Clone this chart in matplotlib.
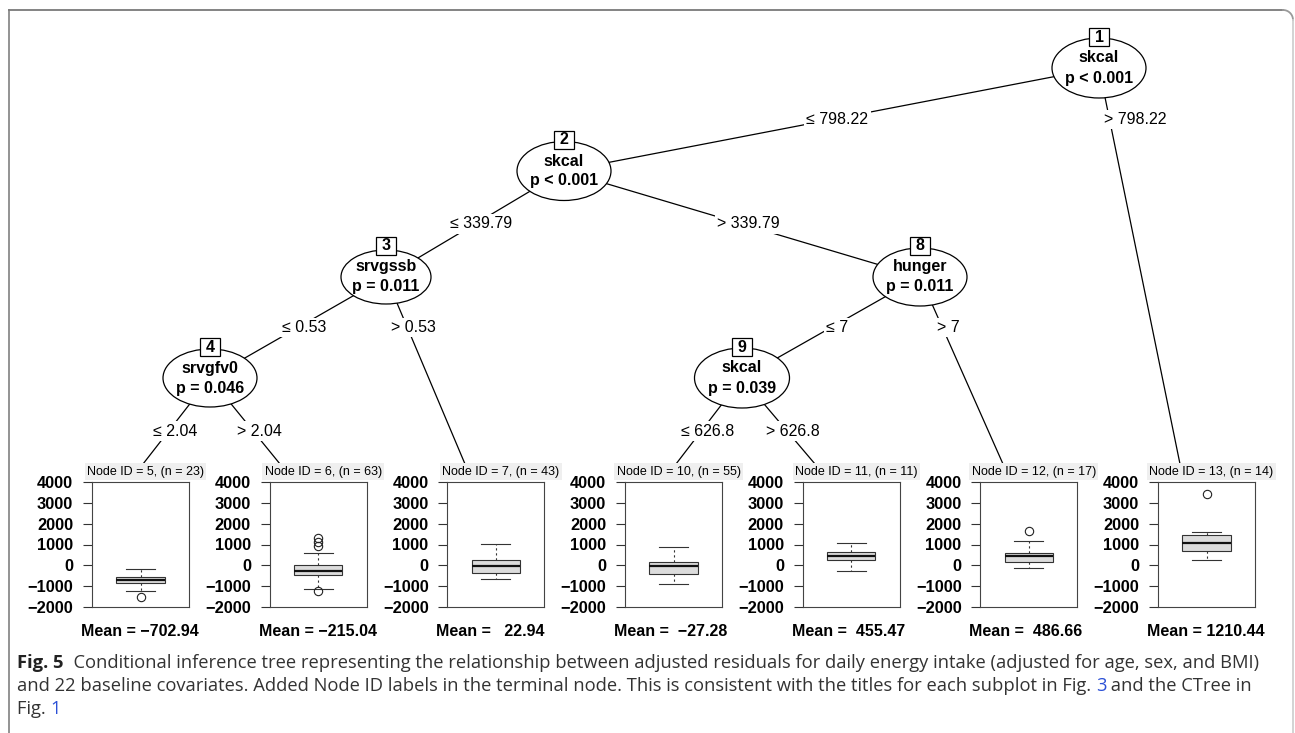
#!/usr/bin/env python3
import numpy as np
import matplotlib
matplotlib.use('Agg')
import matplotlib.pyplot as plt
from matplotlib.patches import Ellipse, Rectangle

plt.rcParams['font.family'] = ['Liberation Sans', 'DejaVu Sans']

# inner (split) nodes
inner_ids = [1, 2, 3, 4, 8, 9]
inner_vars = ['skcal', 'skcal', 'srvgssb', 'srvgfv0', 'hunger', 'skcal']
inner_p = ['p < 0.001', 'p < 0.001', 'p = 0.011', 'p = 0.046', 'p = 0.011', 'p = 0.039']

# terminal nodes
term_ids = [5, 6, 7, 10, 11, 12, 13]
term_n = [23, 63, 43, 55, 11, 17, 14]
term_mean = [-702.94, -215.04, 22.94, -27.28, 455.47, 486.66, 1210.44]
term_whislo = [-1230, -1120, -650, -880, -285, -125, 270]
term_q1 = [-870, -475, -365, -395, 240, 140, 665]
term_med = [-680, -255, -15, -20, 455, 455, 1060]
term_q3 = [-555, 20, 270, 160, 630, 615, 1440]
term_whishi = [-160, 570, 1030, 870, 1090, 1170, 1595]
term_out = [[-1515], [1330, 1130, 930, -1230], [], [], [], [1660], [3430]]

# edges: parent, child, split rule
edges = [(1, 2, '≤ 798.22'), (1, 13, '> 798.22'),
         (2, 3, '≤ 339.79'), (2, 8, '> 339.79'),
         (3, 4, '≤ 0.53'), (3, 7, '> 0.53'),
         (4, 5, '≤ 2.04'), (4, 6, '> 2.04'),
         (8, 9, '≤ 7'), (8, 12, '> 7'),
         (9, 10, '≤ 626.8'), (9, 11, '> 626.8')]

# layout in pixels
W, H = 1295, 733
level_y = [68, 171, 277, 378, 484]
inner_x = {1: 1099, 2: 564, 3: 386, 4: 210, 8: 920, 9: 742}
inner_level = {1: 0, 2: 1, 3: 2, 4: 3, 8: 2, 9: 3}
inner_size = {1: (94, 60), 2: (94, 59), 3: (90, 54), 4: (94, 58), 8: (94, 58), 9: (95, 60)}
term_anchor = {5: 143, 6: 280, 7: 465, 10: 676, 11: 815, 12: 1003, 13: 1180}
label_nudge = {(1, 13): 26}
term_top = 464
panel_left0, panel_step, panel_w = 92, 177.67, 97
panel_top, panel_bot = 482, 607

fig = plt.figure(figsize=(W / 100, H / 100), dpi=100)
ax = fig.add_axes([0, 0, 1, 1])
ax.set_xlim(0, W)
ax.set_ylim(H, 0)
ax.axis('off')

# frame around the figure
ax.plot([9, 9], [H + 10, 10], color='#8a8a8a', lw=1.3)
ax.plot([9, 1283], [10, 10], color='#7a7a7a', lw=1.3)
t = np.linspace(0, np.pi / 2, 20)
ax.plot(1283 + 10 * np.sin(t), 20 - 10 * np.cos(t), color='#9a9a9a', lw=1.3)
ax.plot([1293, 1293], [20, H + 10], color='#d0d0d0', lw=1.3)


def node_pos(nid):
    if nid in inner_x:
        return inner_x[nid], level_y[inner_level[nid]]
    return term_anchor[nid], term_top


# edges and split labels
for parent, child, rule in edges:
    x0, y0 = node_pos(parent)
    x1, y1 = node_pos(child)
    ax.plot([x0, x1], [y0, y1], color='black', lw=0.9, zorder=1)
    d = inner_level[parent]
    ly = (level_y[d] + level_y[d + 1]) / 2
    lx = x0 + (x1 - x0) * (ly - y0) / (y1 - y0) + label_nudge.get((parent, child), 6)
    ax.text(lx, ly, rule, ha='center', va='center', fontsize=11.5, zorder=3,
            bbox=dict(facecolor='white', edgecolor='none', pad=1.5))

# inner nodes
for nid, var, p in zip(inner_ids, inner_vars, inner_p):
    x, y = node_pos(nid)
    w, h = inner_size[nid]
    ax.add_patch(Ellipse((x, y), w, h, facecolor='white', edgecolor='black', lw=0.9, zorder=4))
    ax.text(x, y - 10, var, ha='center', va='center', fontsize=11.5, fontweight='bold', zorder=5)
    ax.text(x, y + 10, p, ha='center', va='center', fontsize=11.5, fontweight='bold', zorder=5)
    ax.add_patch(Rectangle((x - 10, y - 40), 20, 18, facecolor='white', edgecolor='black',
                           lw=0.9, zorder=6))
    ax.text(x, y - 31, str(nid), ha='center', va='center', fontsize=11.5,
            fontweight='bold', zorder=7)

# terminal node boxplots
yt = list(range(-2000, 4001, 1000))
for i, nid in enumerate(term_ids):
    left = panel_left0 + i * panel_step
    pax = fig.add_axes([left / W, 1 - panel_bot / H, panel_w / W, (panel_bot - panel_top) / H])
    stats = [dict(med=term_med[i], q1=term_q1[i], q3=term_q3[i],
                  whislo=term_whislo[i], whishi=term_whishi[i], fliers=term_out[i])]
    pax.bxp(stats, positions=[1], widths=0.5, capwidths=0.3, patch_artist=True,
            boxprops=dict(facecolor='#dcdcdc', edgecolor='#333333', lw=0.8),
            whiskerprops=dict(color='#333333', lw=0.8, linestyle=(0, (2, 2.5))),
            capprops=dict(color='#333333', lw=0.8),
            medianprops=dict(color='#111111', lw=1.6),
            flierprops=dict(marker='o', markerfacecolor='none', markeredgecolor='#222222',
                            markersize=6, markeredgewidth=0.8))
    pax.set_xlim(0.5, 1.5)
    pax.set_ylim(-2000, 4000)
    pax.set_xticks([])
    pax.set_yticks(yt)
    pax.set_yticklabels([f'{v:d}'.replace('-', '\u2212') for v in yt],
                        fontweight='bold', fontsize=11.8)
    pax.tick_params(axis='y', direction='out', length=6.5, width=0.8, pad=7, color='#333333')
    for s in pax.spines.values():
        s.set_linewidth(0.8)
        s.set_color('#444444')

    cx = left + panel_w / 2
    ax.text(cx + 5, 471.5, f'Node ID = {nid}, (n = {term_n[i]})', ha='center', va='center',
            fontsize=9, zorder=5,
            bbox=dict(facecolor='#efefef', edgecolor='none', pad=1.6))
    mean_txt = f'Mean = {term_mean[i]:7.2f}'.replace('-', '\u2212')
    ax.text(left - 11, 632, mean_txt, ha='left', va='center', fontsize=11.5, fontweight='bold')

# caption, one text piece per style run
cap_lines = [
    [('Fig. 5', 'bold', '#222222'),
     ('  Conditional inference tree representing the relationship between adjusted residuals '
      'for daily energy intake (adjusted for age, sex, and BMI)', 'normal', '#333333')],
    [('and 22 baseline covariates. Added Node ID labels in the terminal node. This is consistent '
      'with the titles for each subplot in Fig. ', 'normal', '#333333'),
     ('3', 'normal', '#2b50d6'),
     (' and the CTree in', 'normal', '#333333')],
    [('Fig. ', 'normal', '#333333'), ('1', 'normal', '#2b50d6')],
]
cap_y = [663, 686, 709]
cap_x0, cap_x1 = 17, 1262
cap_font = ['Open Sans', 'DejaVu Sans']

renderer = fig.canvas.get_renderer()


def run_width(segs, size):
    total = 0
    for s, wt, col in segs:
        tt = fig.text(0, 0, s, fontsize=size, fontweight=wt, family=cap_font)
        total += tt.get_window_extent(renderer).width
        tt.remove()
    return total


cap_size = 10 * (cap_x1 - cap_x0) / run_width(cap_lines[0], 10)
for segs, y in zip(cap_lines, cap_y):
    x = cap_x0
    for s, wt, col in segs:
        tt = ax.text(x, y, s, ha='left', va='center', fontsize=cap_size, fontweight=wt,
                     color=col, family=cap_font)
        x += tt.get_window_extent(renderer).width

plt.savefig('out.png', dpi=100)
